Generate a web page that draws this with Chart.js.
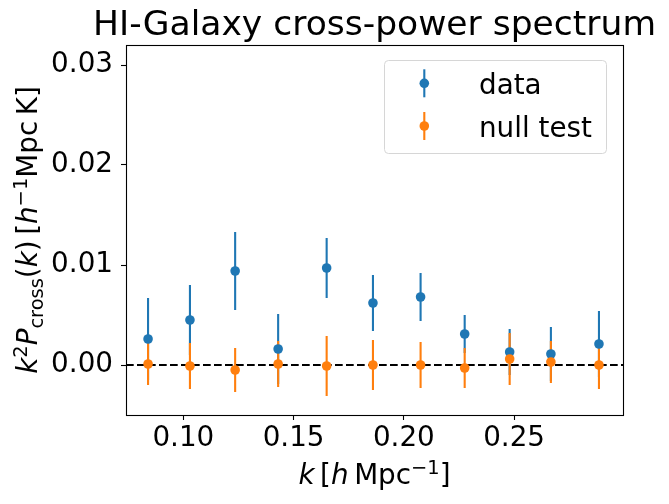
<!DOCTYPE html>
<html>
<head>
<meta charset="utf-8">
<script src="https://cdn.jsdelivr.net/npm/chart.js@4/dist/chart.umd.min.js"></script>
<style>
    html, body { margin: 0; padding: 0; background: #ffffff; }
    #chart-box { width: 669px; height: 504px; }
</style>
</head>
<body>
<div id="chart-box"><canvas id="spectrum-chart" width="669" height="504"></canvas></div>
<script>
// k bins [h/Mpc]
const kValues = [0.084, 0.103, 0.1235, 0.143, 0.165, 0.186, 0.2076, 0.2276, 0.248, 0.2667, 0.2885];

// cross-power, data
const dataValues = [0.0026, 0.0045, 0.0094, 0.0016, 0.0097, 0.0062, 0.0068, 0.0031, 0.0013, 0.0011, 0.0021];
const dataErrors = [0.0041, 0.0035, 0.0039, 0.0035, 0.0030, 0.0028, 0.0024, 0.0019, 0.0023, 0.0027, 0.0033];

// cross-power, null test
const nullValues = [0.0001, -0.0001, -0.0005, 0.0001, -0.0001, 0.0000, 0.0000, -0.0003, 0.0006, 0.0003, 0.0000];
const nullErrors = [0.0021, 0.0023, 0.0022, 0.0023, 0.0030, 0.0025, 0.0023, 0.0020, 0.0026, 0.0021, 0.0024];

const xTicks = [0.10, 0.15, 0.20, 0.25];
const yTicks = [0.00, 0.01, 0.02, 0.03];

const BLUE = '#1f77b4';
const ORANGE = '#ff7f0e';
const FONT = '"DejaVu Sans", "Liberation Sans", sans-serif';
const BASE_SIZE = 27.8;
const MARKER_R = 4.8;

function toPoints(xs, ys) {
    return xs.map((x, i) => ({ x: x, y: ys[i] }));
}

// draw a run of text pieces (italic / superscript / subscript) like mathtext
function drawRich(ctx, parts, x, y, size) {
    const fontFor = (p) => {
        const s = (p.sup || p.sub) ? size * 0.7 : size;
        return (p.italic ? 'italic ' : '') + s + 'px ' + FONT;
    };
    let total = 0;
    parts.forEach(p => {
        ctx.font = fontFor(p);
        p.w = ctx.measureText(p.text).width;
        total += p.w;
    });
    let cx = x - total / 2;
    ctx.textAlign = 'left';
    ctx.textBaseline = 'alphabetic';
    parts.forEach(p => {
        ctx.font = fontFor(p);
        let dy = 0;
        if (p.sup) dy = -size * 0.36;
        if (p.sub) dy = size * 0.2;
        ctx.fillText(p.text, cx, y + dy);
        cx += p.w;
    });
}

const errorBarPlugin = {
    id: 'errorBars',
    beforeDatasetsDraw(chart) {
        const ctx = chart.ctx;
        const yScale = chart.scales.y;
        const area = chart.chartArea;
        ctx.save();
        ctx.lineWidth = 2.1;
        ctx.lineCap = 'butt';
        chart.data.datasets.forEach((ds, di) => {
            const meta = chart.getDatasetMeta(di);
            ctx.strokeStyle = ds.backgroundColor;
            meta.data.forEach((pt, i) => {
                const v = ds.data[i].y;
                const e = ds.errors[i];
                ctx.beginPath();
                ctx.moveTo(pt.x, yScale.getPixelForValue(v - e));
                ctx.lineTo(pt.x, yScale.getPixelForValue(v + e));
                ctx.stroke();
            });
        });

        // zero reference line
        const y0 = yScale.getPixelForValue(0);
        ctx.strokeStyle = '#000000';
        ctx.setLineDash([7.7, 3.3]);
        ctx.beginPath();
        ctx.moveTo(area.left, y0);
        ctx.lineTo(area.right, y0);
        ctx.stroke();
        ctx.restore();
    }
};

const decorPlugin = {
    id: 'decor',
    afterDraw(chart) {
        const ctx = chart.ctx;
        const area = chart.chartArea;
        ctx.save();

        // axes frame
        ctx.strokeStyle = '#000000';
        ctx.lineWidth = 1.1;
        ctx.strokeRect(Math.round(area.left) + 0.5, Math.round(area.top) + 0.5,
            Math.round(area.right - area.left), Math.round(area.bottom - area.top));

        ctx.fillStyle = '#000000';
        const midX = (area.left + area.right) / 2;
        const midY = (area.top + area.bottom) / 2;

        // title
        ctx.font = '34.5px ' + FONT;
        ctx.textAlign = 'center';
        ctx.textBaseline = 'alphabetic';
        ctx.fillText('HI-Galaxy cross-power spectrum', midX, 35);

        // x label
        drawRich(ctx, [
            { text: 'k', italic: true },
            { text: '\u2009[' },
            { text: 'h', italic: true },
            { text: '\u2009Mpc' },
            { text: '\u22121', sup: true },
            { text: ']' }
        ], midX, 484, BASE_SIZE);

        // y label, rotated
        ctx.save();
        ctx.translate(37, midY);
        ctx.rotate(-Math.PI / 2);
        drawRich(ctx, [
            { text: 'k', italic: true },
            { text: '2', sup: true },
            { text: 'P', italic: true },
            { text: 'cross', sub: true },
            { text: '(' },
            { text: 'k', italic: true },
            { text: ')\u2009[' },
            { text: 'h', italic: true },
            { text: '\u22121', sup: true },
            { text: 'Mpc\u2009K]' }
        ], 0, 0, BASE_SIZE);
        ctx.restore();

        // legend
        const lx = 384.5, ly = 60.5, lw = 222, lh = 93;
        ctx.beginPath();
        ctx.roundRect(lx, ly, lw, lh, 4);
        ctx.fillStyle = 'rgba(255,255,255,0.8)';
        ctx.fill();
        ctx.strokeStyle = '#d6d6d6';
        ctx.lineWidth = 1;
        ctx.stroke();

        const entries = [
            { label: 'data', color: BLUE, y: 83.3 },
            { label: 'null test', color: ORANGE, y: 126 }
        ];
        entries.forEach(en => {
            ctx.strokeStyle = en.color;
            ctx.lineWidth = 2.1;
            ctx.beginPath();
            ctx.moveTo(424.3, en.y - 14);
            ctx.lineTo(424.3, en.y + 14);
            ctx.stroke();
            ctx.fillStyle = en.color;
            ctx.beginPath();
            ctx.arc(424.3, en.y, MARKER_R, 0, Math.PI * 2);
            ctx.fill();
            ctx.fillStyle = '#000000';
            ctx.font = BASE_SIZE + 'px ' + FONT;
            ctx.textAlign = 'left';
            ctx.textBaseline = 'alphabetic';
            ctx.fillText(en.label, 479, en.y + 10.5);
        });

        ctx.restore();
    }
};

function buildChart() {
    const ctx = document.getElementById('spectrum-chart').getContext('2d');
    new Chart(ctx, {
        type: 'scatter',
        data: {
            datasets: [
                {
                    label: 'data',
                    data: toPoints(kValues, dataValues),
                    errors: dataErrors,
                    backgroundColor: BLUE,
                    borderColor: BLUE,
                    pointRadius: MARKER_R,
                    pointBorderWidth: 0,
                    order: 2
                },
                {
                    label: 'null test',
                    data: toPoints(kValues, nullValues),
                    errors: nullErrors,
                    backgroundColor: ORANGE,
                    borderColor: ORANGE,
                    pointRadius: MARKER_R,
                    pointBorderWidth: 0,
                    order: 1
                }
            ]
        },
        options: {
            responsive: false,
            animation: false,
            devicePixelRatio: 1,
            layout: { padding: { top: 45, right: 46, left: 0, bottom: 0 } },
            plugins: {
                legend: { display: false },
                title: { display: false },
                tooltip: { enabled: false }
            },
            scales: {
                x: {
                    type: 'linear',
                    min: 0.074,
                    max: 0.2994,
                    afterFit: (scale) => { scale.height = 89; },
                    afterBuildTicks: (scale) => { scale.ticks = xTicks.map(v => ({ value: v })); },
                    grid: {
                        drawOnChartArea: false,
                        drawTicks: true,
                        tickLength: 5,
                        tickColor: '#000000',
                        tickWidth: 1.1
                    },
                    border: { display: false },
                    ticks: {
                        color: '#000000',
                        padding: 2,
                        maxRotation: 0,
                        font: { family: FONT, size: BASE_SIZE },
                        callback: (v) => Number(v).toFixed(2)
                    }
                },
                y: {
                    type: 'linear',
                    min: -0.005,
                    max: 0.032,
                    afterFit: (scale) => { scale.width = 126; },
                    afterBuildTicks: (scale) => { scale.ticks = yTicks.map(v => ({ value: v })); },
                    grid: {
                        drawOnChartArea: false,
                        drawTicks: true,
                        tickLength: 5,
                        tickColor: '#000000',
                        tickWidth: 1.1
                    },
                    border: { display: false },
                    ticks: {
                        color: '#000000',
                        padding: 8,
                        font: { family: FONT, size: BASE_SIZE },
                        callback: (v) => Number(v).toFixed(2)
                    }
                }
            }
        },
        plugins: [errorBarPlugin, decorPlugin]
    });
}

document.addEventListener('DOMContentLoaded', buildChart);
</script>
</body>
</html>
